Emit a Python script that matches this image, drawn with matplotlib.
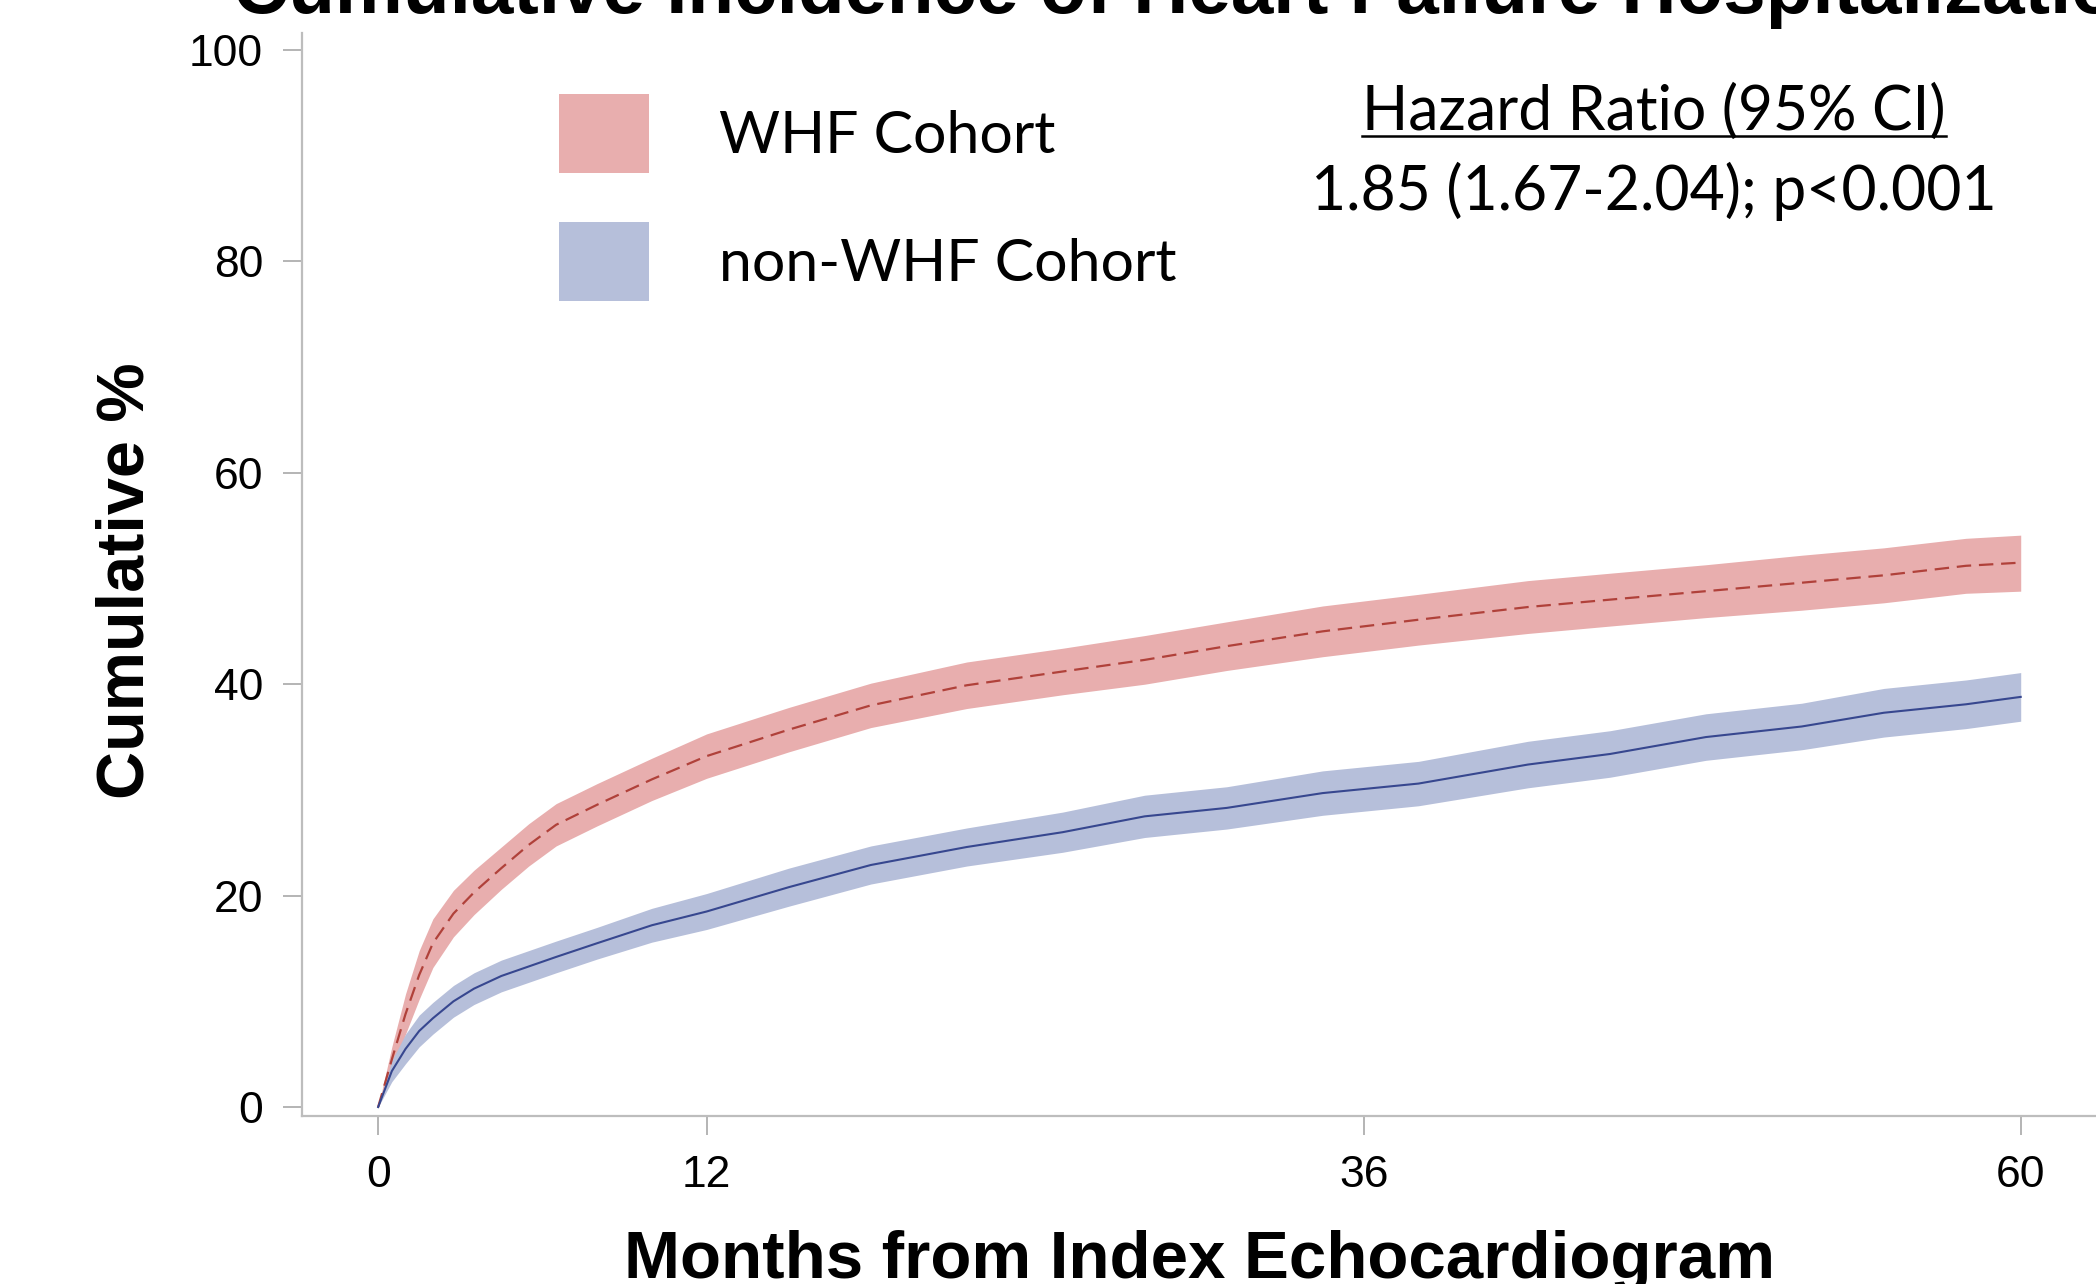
import matplotlib
matplotlib.use("Agg")
import matplotlib.pyplot as plt
from matplotlib.patches import Patch
from matplotlib.lines import Line2D

plt.rcParams['font.family'] = ['Liberation Sans', 'DejaVu Sans']

# months since index echo
months = [0, 0.5, 1, 1.5, 2, 2.75, 3.5, 4.5, 5.5, 6.5, 8, 10, 12, 15, 18, 21.5,
          25, 28, 31, 34.5, 38, 42, 45, 48.5, 52, 55, 58, 60]

# WHF cohort - cumulative % with 95% CI
whf = [0, 4.5, 8.8, 12.5, 15.5, 18.3, 20.3, 22.6, 24.8, 26.7, 28.6, 31.0, 33.2, 35.7, 38.0, 39.9,
       41.2, 42.3, 43.6, 45.0, 46.1, 47.3, 48.0, 48.8, 49.6, 50.3, 51.2, 51.5]
whf_lo = [0, 3.3, 6.9, 10.2, 13.2, 16.1, 18.2, 20.6, 22.8, 24.7, 26.6, 29.0, 31.1, 33.6, 35.9, 37.7,
          39.0, 40.0, 41.3, 42.6, 43.7, 44.8, 45.5, 46.3, 47.0, 47.7, 48.6, 48.8]
whf_hi = [0, 5.7, 10.7, 14.8, 17.8, 20.5, 22.4, 24.6, 26.8, 28.7, 30.6, 33.0, 35.3, 37.8, 40.1, 42.1,
          43.4, 44.6, 45.9, 47.4, 48.5, 49.8, 50.5, 51.3, 52.2, 52.9, 53.8, 54.1]

# non-WHF cohort
nonwhf = [0, 3.4, 5.5, 7.2, 8.4, 10.0, 11.2, 12.4, 13.3, 14.2, 15.5, 17.2, 18.5, 20.8, 22.9, 24.6,
          26.0, 27.5, 28.3, 29.7, 30.6, 32.4, 33.4, 35.0, 36.0, 37.3, 38.1, 38.8]
nonwhf_lo = [0, 2.4, 4.1, 5.7, 6.9, 8.5, 9.7, 10.9, 11.8, 12.7, 14.0, 15.6, 16.8, 19.0, 21.1, 22.8,
             24.1, 25.5, 26.3, 27.6, 28.5, 30.2, 31.2, 32.8, 33.8, 35.0, 35.8, 36.5]
nonwhf_hi = [0, 4.4, 6.9, 8.7, 9.9, 11.5, 12.7, 13.9, 14.8, 15.7, 17.0, 18.8, 20.2, 22.6, 24.7, 26.4,
             27.9, 29.5, 30.3, 31.8, 32.7, 34.6, 35.6, 37.2, 38.2, 39.6, 40.4, 41.1]

x_ticks = [0, 12, 36, 60]
y_ticks = [0, 20, 40, 60, 80, 100]

red_band = '#E8AEAE'
red_line = '#B0413A'
blue_band = '#B6BFDA'
blue_line = '#37478F'
grey = '#BDBDBD'

fig = plt.figure(figsize=(20.96, 12.84), dpi=100)
ax = fig.add_axes([0.1441, 0.1308, 0.8559, 0.8435])

ax.fill_between(months, whf_lo, whf_hi, color=red_band, linewidth=0)
ax.fill_between(months, nonwhf_lo, nonwhf_hi, color=blue_band, linewidth=0)
ax.plot(months, whf, color=red_line, lw=1.6, dashes=(6.5, 3.5))
ax.plot(months, nonwhf, color=blue_line, lw=1.5)

ax.set_xlim(-2.78, 62.75)
ax.set_ylim(-0.85, 101.6)
ax.set_xticks(x_ticks)
ax.set_yticks(y_ticks)

ax.spines['top'].set_visible(False)
ax.spines['right'].set_visible(False)
for s in ['left', 'bottom']:
    ax.spines[s].set_color(grey)
    ax.spines[s].set_linewidth(1.6)
ax.tick_params(axis='both', length=14, width=1.2, color='#A8A8A8', labelsize=32)
ax.tick_params(axis='x', pad=14)
ax.tick_params(axis='y', pad=14)

ax.set_xlabel('Months from Index Echocardiogram', fontsize=48.4, fontweight='bold')
ax.xaxis.set_label_coords(0.5, -0.105)
ax.set_ylabel('Cumulative %', fontsize=48, fontweight='bold')
ax.yaxis.set_label_coords(-0.0803, 0.494)

fig.text(0.572, 0.9899, 'Cumulative Incidence of Heart Failure Hospitalization',
         fontsize=55, fontweight='bold', ha='center', va='baseline')

handles = [Patch(facecolor=red_band, edgecolor='none', label='WHF Cohort'),
           Patch(facecolor=blue_band, edgecolor='none', label='non-WHF Cohort')]
ax.legend(handles=handles, loc='upper left', bbox_to_anchor=(0.2667, 0.9268),
          bbox_transform=fig.transFigure, frameon=False, borderpad=0, borderaxespad=0,
          prop={'family': 'Lato', 'size': 42.5}, handlelength=1.52, handleheight=1.68,
          handletextpad=1.19, labelspacing=0.84)

hr_title = fig.text(0.789, 0.8988, 'Hazard Ratio (95% CI)', family='Lato', fontsize=43.7,
                    ha='center', va='baseline')
fig.text(0.789, 0.8364, '1.85 (1.67-2.04); p<0.001', family='Lato', fontsize=43.7,
         ha='center', va='baseline')

# underline the HR header
fig.canvas.draw()
bb = hr_title.get_window_extent(fig.canvas.get_renderer())
W, H = fig.bbox.width, fig.bbox.height
yline = 0.8988 - 6.0 / H
fig.add_artist(Line2D([bb.x0 / W, bb.x1 / W], [yline, yline], transform=fig.transFigure,
                      color='black', lw=1.8))

fig.savefig('out.png', dpi=100)
